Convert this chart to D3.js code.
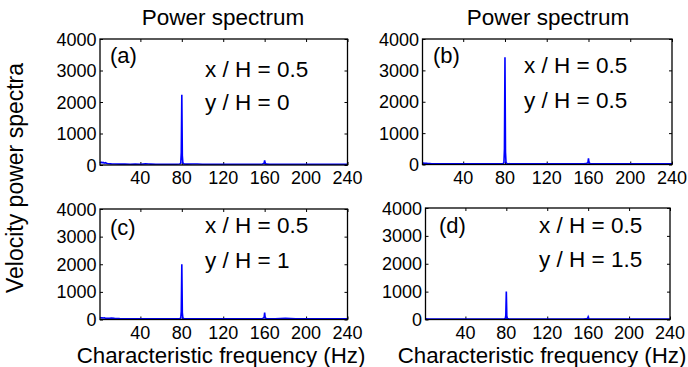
<!DOCTYPE html>
<html><head><meta charset="utf-8">
<script src="https://cdn.jsdelivr.net/npm/d3@7"></script>
<style>
html,body{margin:0;padding:0;background:#fff;}
svg{display:block;font-family:"Liberation Sans",Arial,sans-serif;}
</style></head>
<body>
<svg id="chart" width="688" height="367"></svg>
<script>
// ---------------- data ----------------
const freqs = [1, 2, 3, 4, 5, 6, 8, 10, 12, 15, 20, 25, 30, 35, 40, 45, 48, 50, 55, 60, 65, 70, 75, 78, 79, 79.5, 80, 80.5, 81, 82, 85, 90, 95, 100, 110, 120, 130, 140, 150, 155, 158, 159.5, 160, 160.5, 162, 165, 170, 180, 190, 200, 210, 220, 230, 240];
const specA = [60, 90, 70, 85, 60, 75, 50, 40, 35, 30, 28, 30, 25, 28, 25, 35, 30, 28, 25, 25, 24, 25, 26, 30, 60, 400, 2230, 300, 70, 35, 28, 30, 32, 26, 25, 24, 24, 24, 24, 24, 30, 60, 150, 50, 28, 25, 24, 24, 24, 24, 24, 24, 24, 24];
const specB = [40, 45, 40, 35, 38, 30, 28, 26, 25, 24, 24, 24, 22, 24, 22, 22, 22, 22, 22, 22, 22, 22, 22, 24, 50, 500, 3420, 400, 60, 30, 24, 22, 22, 22, 22, 22, 22, 22, 22, 22, 28, 60, 200, 50, 24, 22, 22, 22, 22, 22, 22, 22, 22, 22];
const specC = [70, 60, 65, 55, 60, 50, 45, 40, 55, 40, 30, 28, 26, 26, 25, 25, 25, 25, 25, 24, 24, 24, 24, 28, 55, 300, 2000, 250, 60, 30, 25, 24, 24, 24, 24, 24, 24, 24, 24, 25, 35, 80, 250, 60, 26, 24, 24, 40, 24, 24, 24, 24, 24, 24];
const specD = [20, 22, 20, 20, 20, 20, 20, 20, 20, 20, 20, 20, 20, 20, 20, 20, 20, 20, 20, 20, 20, 20, 20, 22, 30, 150, 1000, 120, 30, 22, 20, 20, 20, 20, 20, 20, 20, 20, 20, 20, 22, 40, 90, 30, 20, 20, 20, 20, 20, 20, 20, 20, 20, 20];
const xTicks = [40, 80, 120, 160, 200, 240];
const yTicks = [0, 1000, 2000, 3000, 4000];
const panelLetters = ["(a)", "(b)", "(c)", "(d)"];
const xOverH = ["x / H = 0.5", "x / H = 0.5", "x / H = 0.5", "x / H = 0.5"];
const yOverH = ["y / H = 0", "y / H = 0.5", "y / H = 1", "y / H = 1.5"];
const titles = ["Power spectrum", "Power spectrum"];
const xLabel = "Characteristic frequency (Hz)";
const yLabel = "Velocity power spectra";

// ---------------- layout ----------------
const svg = d3.select("#chart");
const panels = [
  {x0: 100,   x1: 347.5, y0: 39,  y1: 165,   data: specA, letter: [110, 63],  t1: [205, 77],  t2: [205, 110]},
  {x0: 422.5, x1: 672,   y0: 39,  y1: 164.5, data: specB, letter: [433, 63],  t1: [524, 73],  t2: [524, 108]},
  {x0: 100,   x1: 347.5, y0: 209, y1: 319.5, data: specC, letter: [110, 235], t1: [205, 233], t2: [205, 268]},
  {x0: 425.5, x1: 670,   y0: 208, y1: 319.5, data: specD, letter: [439, 233], t1: [539, 233], t2: [539, 267]}
];

function txt(g, x, y, str, size, anchor) {
  return g.append("text")
    .attr("x", x).attr("y", y)
    .attr("text-anchor", anchor || "start")
    .attr("font-size", size)
    .attr("fill", "#000")
    .text(str);
}

panels.forEach((p, i) => {
  const g = svg.append("g");
  const x = d3.scaleLinear().domain([1, 240]).range([p.x0, p.x1]);
  const y = d3.scaleLinear().domain([0, 4000]).range([p.y1, p.y0]);

  const tl = 3;
  g.append("g").attr("transform", `translate(0,${p.y1})`)
    .call(d3.axisTop(x).tickValues(xTicks).tickSize(tl).tickFormat(""))
    .call(a => a.select(".domain").remove());
  g.append("g").attr("transform", `translate(0,${p.y0})`)
    .call(d3.axisBottom(x).tickValues(xTicks).tickSize(tl).tickFormat(""))
    .call(a => a.select(".domain").remove());
  g.append("g").attr("transform", `translate(${p.x0},0)`)
    .call(d3.axisRight(y).tickValues(yTicks).tickSize(tl).tickFormat(""))
    .call(a => a.select(".domain").remove());
  g.append("g").attr("transform", `translate(${p.x1},0)`)
    .call(d3.axisLeft(y).tickValues(yTicks).tickSize(tl).tickFormat(""))
    .call(a => a.select(".domain").remove());
  g.selectAll(".tick line").attr("stroke", "#000").attr("stroke-width", 1);

  xTicks.forEach(t => txt(g, x(t), p.y1 + 19, String(t), 18, "middle"));
  yTicks.forEach(t => txt(g, p.x0 - 3.5, y(t) + 6.5, String(t), 18, "end"));

  const line = d3.line().x((d, k) => x(freqs[k])).y(d => y(d));
  g.append("path").datum(p.data)
    .attr("d", line).attr("fill", "none")
    .attr("stroke", "#0000ff").attr("stroke-width", 1.6);

  g.append("rect").attr("x", p.x0).attr("y", p.y0)
    .attr("width", p.x1 - p.x0).attr("height", p.y1 - p.y0)
    .attr("fill", "none").attr("stroke", "#000").attr("stroke-width", 1.3);

  txt(g, p.letter[0], p.letter[1], panelLetters[i], 22, "start");
  txt(g, p.t1[0], p.t1[1], xOverH[i], 22.5, "start");
  txt(g, p.t2[0], p.t2[1], yOverH[i], 22.5, "start");
});

txt(svg, 223, 25, titles[0], 22.5, "middle");
txt(svg, 548, 25, titles[1], 22.5, "middle");
txt(svg, 221, 362.5, xLabel, 22.3, "middle");
txt(svg, 542, 362.5, xLabel, 22.3, "middle");
svg.append("text")
  .attr("transform", `translate(23,178) rotate(-90)`)
  .attr("text-anchor", "middle")
  .attr("font-size", 23)
  .attr("fill", "#000")
  .text(yLabel);
</script>
</body></html>
